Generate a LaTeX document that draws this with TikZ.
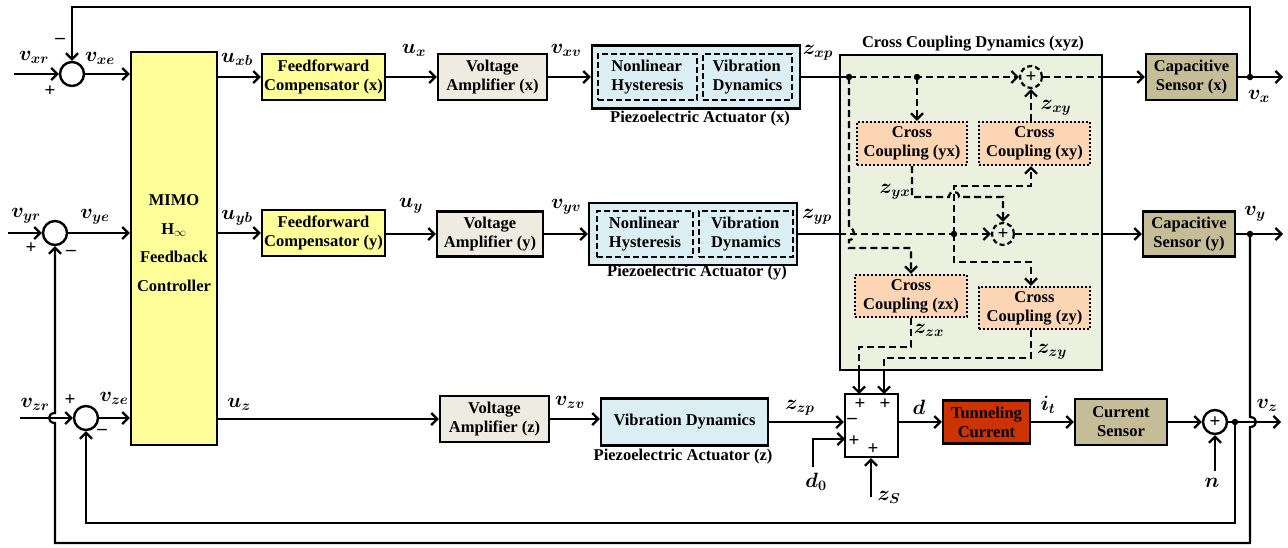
\documentclass[tikz,border=0pt]{standalone}
\usepackage{fontspec}
\setmainfont{Liberation Serif}
\usepackage{bm}
\usetikzlibrary{arrows.meta}
\definecolor{cYel}{HTML}{FFFF99}
\definecolor{cAmp}{HTML}{EEECE1}
\definecolor{cPz}{HTML}{DAEEF3}
\definecolor{cCross}{HTML}{EBF1DE}
\definecolor{cCC}{HTML}{FCD5B5}
\definecolor{cSen}{HTML}{C4BD97}
\definecolor{cTun}{HTML}{CC3300}
\newcommand{\bxf}{\fontsize{16.5}{19}\selectfont\bfseries}
\newcommand{\mthf}{\fontsize{22.5}{25}\selectfont}
\newcommand{\sgf}{\fontsize{19}{19}\selectfont\bfseries}
\begin{document}
\begin{tikzpicture}[x={(1pt,0pt)},y={(0pt,-1pt)},
  blk/.style={draw, line width=2.4pt, align=center, inner sep=0pt, font=\bxf},
  sz/.style n args={2}{minimum width=#1pt, minimum height=#2pt},
  ln/.style={line width=2.2pt},
  tip/.style={-{Straight Barb[length=6pt,width=12pt]}},
  arr/.style={ln, tip},
  dsh/.style={line width=2.2pt, dash pattern=on 7pt off 4pt},
  sumc/.style={circle, draw, line width=2.4pt, minimum size=24pt, inner sep=0pt, font=\sgf},
  dsum/.style={circle, draw, line width=2.2pt, dash pattern=on 5pt off 3pt, minimum size=22pt, inner sep=0pt, font=\sgf},
  ccb/.style={blk, fill=cCC, dash pattern=on 2pt off 2pt},
  idb/.style={draw, line width=2.2pt, dash pattern=on 6pt off 3pt, align=left, inner sep=0pt, font=\bxf},
  dot/.style={circle, fill, inner sep=0pt, minimum size=6.5pt},
  lb/.style={inner sep=0pt, font=\mthf},
  sg/.style={inner sep=0pt, font=\sgf},
  captxt/.style={inner sep=0pt, font=\bxf}]
\useasboundingbox (0,0) rectangle (1288,547);

% ---------- blocks ----------
\node[blk,fill=cYel,sz={86}{393}] (mimo) at (174,248.5) {};
\node[font=\fontsize{16.5}{28.5}\selectfont\bfseries, align=center] (mimot) at (174,243) {MIMO\\H\textsubscript{$\infty$}\\Feedback\\Controller};

\node[blk,fill=cYel,sz={123}{46}] (ffx) at (323.5,77) {Feedforward\\Compensator (x)};
\node[blk,fill=cYel,sz={123}{46}] (ffy) at (323.5,233) {Feedforward\\Compensator (y)};

\node[blk,fill=cAmp,sz={109}{46}] (vax) at (492.5,77) {Voltage\\Amplifier (x)};
\node[blk,fill=cAmp,sz={106}{45}] (vay) at (490,234) {Voltage\\Amplifier (y)};
\node[blk,fill=cAmp,sz={109}{46}] (vaz) at (494.5,419) {Voltage\\Amplifier (z)};

\node[blk,fill=cPz,sz={208}{63}] (pzx) at (696,77) {};
\node[idb,sz={99}{46}] (nhx) at (647.5,77) {Nonlinear\\Hysteresis};
\node[idb,sz={89}{46}] (vdx) at (747.5,77) {Vibration\\Dynamics};
\node[captxt] (pzxl) at (700,119) {Piezoelectric Actuator (x)};

\node[blk,fill=cPz,sz={208}{62}] (pzy) at (693,234) {};
\node[idb,sz={96}{46}] (nhy) at (645,234) {Nonlinear\\Hysteresis};
\node[idb,sz={94}{46}] (vdy) at (746,234) {Vibration\\Dynamics};
\node[captxt] (pzyl) at (697,273) {Piezoelectric Actuator (y)};

\node[blk,fill=cPz,sz={167}{47}] (vdz) at (684.5,422) {Vibration Dynamics};
\node[captxt] (pzzl) at (683,457) {Piezoelectric Actuator (z)};

\node[blk,fill=cCross,sz={262}{315}] (cross) at (971,212.5) {};
\node[captxt] (crossl) at (973,44) {Cross Coupling Dynamics (xyz)};

\node[ccb,sz={110}{43}] (ccyx) at (912,143.5) {Cross\\Coupling (yx)};
\node[ccb,sz={111}{43}] (ccxy) at (1034.5,143.5) {Cross\\Coupling (xy)};
\node[ccb,sz={112}{42}] (cczx) at (911,296) {Cross\\Coupling (zx)};
\node[ccb,sz={111}{42}] (cczy) at (1034.5,308) {Cross\\Coupling (zy)};

\node[dsum] (sxy) at (1031,77) {+};
\node[dsum] (sy2) at (1003,234) {+};

\node[blk,fill=cSen,sz={91}{46}] (capx) at (1191.5,77) {Capacitive\\Sensor (x)};
\node[blk,fill=cSen,sz={92}{45}] (capy) at (1189,234) {Capacitive\\Sensor (y)};

\node[blk,sz={53}{63}] (sb) at (871.5,425.5) {};
\node[blk,fill=cTun,sz={87}{43}] (tc) at (986.5,422) {Tunneling\\Current};
\node[blk,fill=cSen,sz={92}{46}] (cs) at (1121,422) {Current\\Sensor};

\node[sumc] (sx) at (72,74) {};
\node[sumc] (sy) at (55,233) {};
\node[sumc] (sz) at (86,418) {};
\node[sumc] (sn) at (1215,422) {+};

\node[dot] (dA) at (849,77) {};
\node[dot] (dB) at (917,77) {};
\node[dot] (dC) at (954,234) {};
\node[dot] (dX) at (1250,77) {};
\node[dot] (dY) at (1250,234) {};
\node[dot] (dZ) at (1235,422) {};

% ---------- free ends ----------
\coordinate (inx) at (14,74);
\coordinate (iny) at (8,233);
\coordinate (inz) at (20,418);
\coordinate (oX) at (1283,77);
\coordinate (oY) at (1283,234);
\coordinate (oZ) at (1281,422);
\coordinate (topY) at (0,7);
\coordinate (botI) at (0,523);
\coordinate (d0s) at (813,467);
\coordinate (zss) at (871,497);
\coordinate (ns) at (1215,471);
\coordinate (sb1) at (859,394);
\coordinate (sb2) at (884,394);
\coordinate (sb3) at (845,439);

% ---------- x row ----------
\draw[arr] (inx) -- (sx.west);
\draw[arr] (sx.east) -- (sx.east -| mimo.west);
\draw[arr] (ffx.west -| mimo.east) -- (ffx.west);
\draw[arr] (ffx.east) -- (ffx.east -| vax.west);
\draw[arr] (vax.east) -- (vax.east -| pzx.west);
\draw[ln] (pzx.east) -- (dA.center);
\draw[dsh,tip] (dA.center) -- (sxy.west);
\draw[dsh] (sxy.east) -- (sxy.east -| cross.east);
\draw[arr] (sxy.east -| cross.east) -- (capx.west);
\draw[ln] (capx.east) -- (dX.center);
\draw[arr] (dX.center) -- (oX);
\draw[arr] (dX.center) -- (dX |- topY) -- (sx |- topY) -- (sx.north);

% ---------- y row ----------
\draw[arr] (iny) -- (sy.west);
\draw[arr] (sy.east) -- (sy.east -| mimo.west);
\draw[arr] (ffy.west -| mimo.east) -- (ffy.west);
\draw[arr] (vay.west -| ffy.east) -- (vay.west);
\draw[arr] (vay.east) -- (vay.east -| pzy.west);
\draw[ln] (pzy.east) -- (pzy.east -| cross.west);
\draw[dsh,tip] (pzy.east -| cross.west) -- (sy2.west);
\draw[dsh] (sy2.east) -- (sy2.east -| cross.east);
\draw[arr] (sy2.east -| cross.east) -- (capy.west);
\draw[ln] (capy.east) -- (dY.center);
\draw[arr] (dY.center) -- (oY);
\draw[arr] (dY.center) -- (1250,417) .. controls (1258,417) and (1258,427) .. (1250,427)
   -- (1250,543) -- (55,543) -- (55,423) .. controls (47,423) and (47,413) .. (55,413) -- (sy.south);

% ---------- z row ----------
\draw[arr] (inz) -- (sz.west);
\draw[arr] (sz.east) -- (sz.east -| mimo.west);
\draw[arr] (vaz.west -| mimo.east) -- (vaz.west);
\draw[arr] (vaz.east) -- (vaz.east -| vdz.west);
\draw[arr] (vdz.east) -- (vdz.east -| sb.west);
\draw[arr] (tc.west -| sb.east) -- (tc.west);
\draw[arr] (tc.east) -- (cs.west);
\draw[arr] (cs.east) -- (sn.west);
\draw[ln] (sn.east) -- (dZ.center);
\draw[arr] (dZ.center) -- (oZ);
\draw[arr] (dZ.center) -- (dZ |- botI) -- (sz |- botI) -- (sz.south);
\draw[arr] (d0s) -- (d0s |- sb3) -- (sb3);
\draw[arr] (zss) -- (zss |- sb.south);
\draw[arr] (ns) -- (sn.south);

% ---------- cross coupling internals ----------
\draw[dsh,tip] (dB.center) -- (dB.center |- ccyx.north);
\draw[dsh,tip] (dA.center) -- (849,228) .. controls (856,228) and (856,240) .. (849,240)
   -- (849,248) -- (cczx.north |- 0,248) -- (cczx.north);
\draw[dsh,tip] (sxy.south |- ccxy.north) -- (sxy.south);
\draw[dsh,tip] (ccyx.south) -- (912,197) -- (949,197) .. controls (949,190) and (959,190) .. (959,197)
   -- (sy2.north |- 0,197) -- (sy2.north);
\draw[dsh,tip] (dC.center) -- (954,186) -- (sxy.south |- 0,186) -- (sxy.south |- ccxy.south);
\draw[dsh,tip] (dC.center) -- (954,262) -- (sxy.south |- 0,262) -- (sxy.south |- cczy.north);
\draw[dsh] (cczx.south) -- (911,347) -- (sb1 |- 0,347) -- (sb1 |- cross.south);
\draw[arr] (sb1 |- cross.south) -- (sb1);
\draw[dsh] (sxy.south |- cczy.south) -- (sxy.south |- 0,358) -- (sb2 |- 0,358) -- (sb2 |- cross.south);
\draw[arr] (sb2 |- cross.south) -- (sb2);

% ---------- labels ----------
\node[lb] (l1) at (34,57) {$\bm{v_{xr}}$};
\node[lb] (l2) at (100,58) {$\bm{v_{xe}}$};
\node[lb] (l3) at (237,59) {$\bm{u_{xb}}$};
\node[lb] (l4) at (414,50) {$\bm{u_{x}}$};
\node[lb] (l5) at (566,50) {$\bm{v_{xv}}$};
\node[lb] (l6) at (818,53) {$\bm{z_{xp}}$};
\node[lb] (l7) at (1056,108) {$\bm{z_{xy}}$};
\node[lb] (l8) at (895,192) {$\bm{z_{yx}}$};
\node[lb] (l9) at (929,330) {$\bm{z_{zx}}$};
\node[lb] (l10) at (1052,352) {$\bm{z_{zy}}$};
\node[lb] (l11) at (26,216) {$\bm{v_{yr}}$};
\node[lb] (l12) at (95,217) {$\bm{v_{ye}}$};
\node[lb] (l13) at (237,218) {$\bm{u_{yb}}$};
\node[lb] (l14) at (411,206) {$\bm{u_{y}}$};
\node[lb] (l15) at (566,207) {$\bm{v_{yv}}$};
\node[lb] (l16) at (817,217) {$\bm{z_{yp}}$};
\node[lb] (l17) at (35,404) {$\bm{v_{zr}}$};
\node[lb] (l18) at (114,398) {$\bm{v_{ze}}$};
\node[lb] (l19) at (239,404) {$\bm{u_{z}}$};
\node[lb] (l20) at (570,402) {$\bm{v_{zv}}$};
\node[lb] (l21) at (800,408) {$\bm{z_{zp}}$};
\node[lb] (l22) at (919,407) {$\bm{d}$};
\node[lb] (l23) at (816,482) {$\bm{d_{0}}$};
\node[lb] (l24) at (889,497) {$\bm{z_{S}}$};
\node[lb] (l25) at (1048,405) {$\bm{i_{t}}$};
\node[lb] (l26) at (1212,483) {$\bm{n}$};
\node[lb] (l27) at (1267,405) {$\bm{v_{z}}$};
\node[lb] (l28) at (1259,96) {$\bm{v_{x}}$};
\node[lb] (l29) at (1255,214) {$\bm{v_{y}}$};

% ---------- signs ----------
\node[sg] (s1) at (60,41) {–};
\node[sg] (s2) at (50,91) {+};
\node[sg] (s3) at (31,248) {+};
\node[sg] (s4) at (71,253) {–};
\node[sg] (s5) at (70,400) {+};
\node[sg] (s6) at (102,432) {–};
\node[sg] (s7) at (860,404) {+};
\node[sg] (s8) at (885,404) {+};
\node[sg] (s9) at (852,421) {–};
\node[sg] (s10) at (854,441) {+};
\node[sg] (s11) at (873,449) {+};
\end{tikzpicture}
\end{document}
